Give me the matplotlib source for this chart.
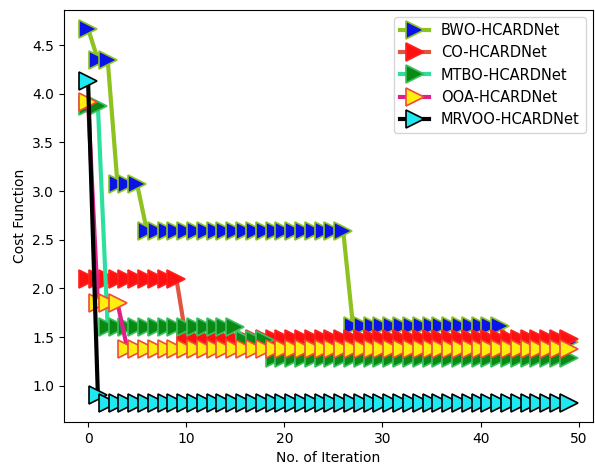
import numpy as np
import matplotlib
matplotlib.use("Agg")
import matplotlib.pyplot as plt

# iteraciones 0..49
iteraciones = np.arange(50)

# curvas de convergencia (valor del costo por iteracion)
bwo = [4.67, 4.35, 4.35, 3.07, 3.07, 3.07] + [2.59] * 21 + [1.61] * 16 + [1.45] * 7
co = [2.10] * 10 + [1.48] * 40
mtbo = [3.88, 3.88] + [1.60] * 14 + [1.47] * 3 + [1.29] * 31
ooa = [3.92, 1.85, 1.85, 1.85] + [1.38] * 46
mrvoo = [4.13, 0.90] + [0.82] * 48

nombres = ['BWO-HCARDNet', 'CO-HCARDNet', 'MTBO-HCARDNet', 'OOA-HCARDNet', 'MRVOO-HCARDNet']

# estilo de cada curva: linea, relleno del marcador, borde del marcador
estilos = [
    ('#8dc21f', '#0a14e6', '#8dc21f'),
    ('#e0553f', '#ff1010', '#ff2020'),
    ('#2ee0a0', '#0a8a14', '#3cc060'),
    ('#e0208a', '#ffee10', '#f04a3a'),
    ('#000000', '#20e8f0', '#000000'),
]

fig = plt.figure(figsize=(5.95, 4.71), dpi=100)
ax = fig.add_axes([0.1076, 0.104, 0.889, 0.875])

for serie, nombre, (c_linea, c_cara, c_borde) in zip([bwo, co, mtbo, ooa, mrvoo], nombres, estilos):
    ax.plot(iteraciones, serie, color=c_linea, linewidth=3, marker='>',
            markersize=13.5, markerfacecolor=c_cara, markeredgecolor=c_borde,
            markeredgewidth=1.2, label=nombre)

ax.set_xlabel('No. of Iteration')
ax.set_ylabel('Cost Function')
ax.legend(loc='upper right', fontsize=10.5)

plt.savefig('out.png', dpi=100)
